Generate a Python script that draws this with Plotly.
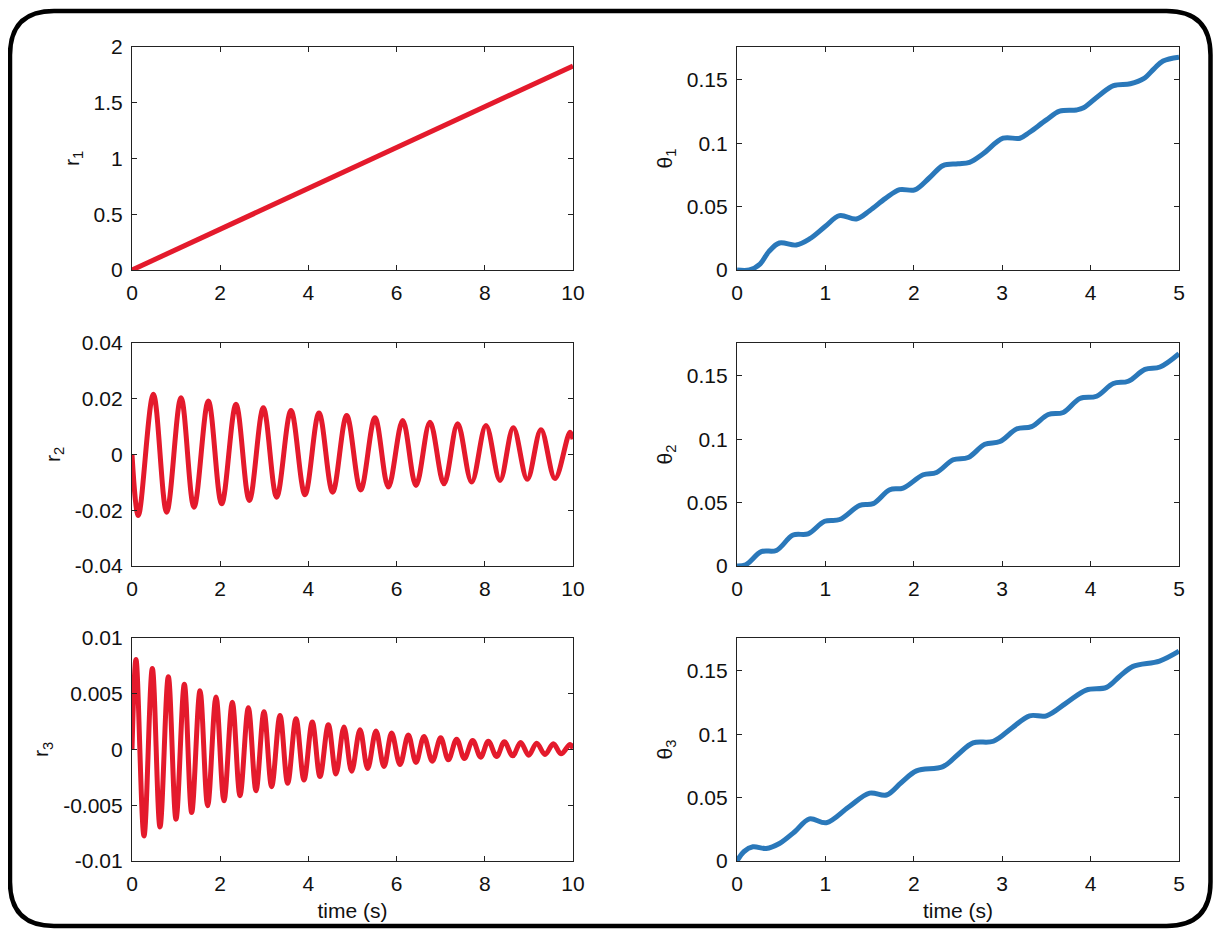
import plotly.graph_objects as go

# ---------------- data ----------------
r1_t = [0.0, 10.0]
r1_v = [0.0, 1.83]

# r2: start, alternating troughs / peaks, end
r2_t = [0.0, 0.144, 0.484, 0.786, 1.111, 1.406, 1.731, 2.033, 2.358, 2.661, 2.978,
        3.280, 3.605, 3.923, 4.240, 4.550, 4.868, 5.185, 5.510, 5.813, 6.138,
        6.440, 6.757, 7.075, 7.385, 7.702, 8.027, 8.345, 8.647, 8.964, 9.274,
        9.592, 9.932, 10.0]
r2_v = [0.0, -0.0219, 0.0216, -0.0207, 0.0204, -0.0189, 0.0192, -0.0177, 0.0180,
        -0.0165, 0.0168, -0.0153, 0.0158, -0.0144, 0.0149, -0.0135, 0.0140,
        -0.0127, 0.0132, -0.0117, 0.0122, -0.0111, 0.0116, -0.0105, 0.0110,
        -0.0099, 0.0104, -0.0093, 0.0096, -0.0089, 0.0089, -0.0086, 0.0080, 0.0055]

# r3: start, peaks/troughs alternating, end
r3_peak_t = [0.091, 0.461, 0.824, 1.187, 1.542, 1.905, 2.275, 2.638, 2.993, 3.356,
             3.719, 4.089, 4.452, 4.807, 5.170, 5.533, 5.888, 6.266, 6.621, 7.000,
             7.362, 7.725, 8.080, 8.443, 8.813, 9.176, 9.554, 9.932]
r3_peak_v = [0.00808, 0.00727, 0.00652, 0.00586, 0.00526, 0.00471, 0.00423, 0.00375,
             0.00339, 0.00306, 0.00276, 0.00246, 0.00222, 0.00201, 0.00177, 0.00165,
             0.00147, 0.00129, 0.00117, 0.00105, 0.00093, 0.00081, 0.00075, 0.00069,
             0.00063, 0.00057, 0.00051, 0.00045]
r3_trough_t = [0.272, 0.635, 0.998, 1.353, 1.716, 2.086, 2.449, 2.812, 3.167, 3.530,
               3.900, 4.263, 4.626, 4.981, 5.344, 5.714, 6.077, 6.440, 6.810, 7.173,
               7.536, 7.906, 8.269, 8.632, 8.995, 9.365, 9.728]
r3_trough_v = [-0.00775, -0.00694, -0.00625, -0.00565, -0.00505, -0.00460, -0.00414,
               -0.00369, -0.00333, -0.00303, -0.00273, -0.00243, -0.00219, -0.00195,
               -0.00171, -0.00153, -0.00135, -0.00117, -0.00105, -0.00093, -0.00081,
               -0.00069, -0.00063, -0.00057, -0.00051, -0.00045, -0.00039]
r3_start = (0.0, 0.0)
r3_end = (10.0, 0.0001)

th1_t = [0.0, 0.14, 0.26, 0.36, 0.48, 0.67, 0.82, 1.0, 1.16, 1.35, 1.5, 1.68, 1.84,
         2.01, 2.18, 2.33, 2.5, 2.63, 2.78, 3.01, 3.2, 3.31, 3.5, 3.65, 3.84, 3.92,
         4.1, 4.26, 4.45, 4.6, 4.72, 4.82, 5.0]
th1_v = [0.0, 0.0, 0.0047, 0.0145, 0.0213, 0.0197, 0.0245, 0.0345, 0.0429, 0.0403,
         0.0468, 0.0565, 0.0634, 0.0632, 0.073, 0.0824, 0.0838, 0.085, 0.0916, 0.104,
         0.104, 0.1087, 0.1185, 0.1253, 0.1263, 0.128, 0.138, 0.1455, 0.147, 0.151,
         0.159, 0.165, 0.168]

th2_t = [0.0, 0.1, 0.275, 0.445, 0.634, 0.804, 0.992, 1.162, 1.389, 1.540, 1.728,
         1.879, 2.106, 2.257, 2.445, 2.615, 2.804, 2.974, 3.162, 3.332, 3.521, 3.691,
         3.879, 4.068, 4.257, 4.426, 4.615, 4.785, 5.0]
th2_v = [0.0, 0.001, 0.0113, 0.0123, 0.0244, 0.0254, 0.0353, 0.0367, 0.0479, 0.0492,
         0.0602, 0.0615, 0.0720, 0.0738, 0.0838, 0.0856, 0.0961, 0.0982, 0.1081, 0.1100,
         0.1196, 0.1212, 0.1322, 0.1340, 0.1440, 0.1458, 0.1552, 0.1571, 0.1676]

th3_t = [0.0, 0.08, 0.18, 0.33, 0.48, 0.65, 0.82, 1.01, 1.26, 1.50, 1.69, 1.86, 2.03,
         2.33, 2.5, 2.67, 2.9, 3.11, 3.31, 3.50, 3.73, 3.95, 4.18, 4.33, 4.48, 4.78, 5.0]
th3_v = [0.0, 0.0075, 0.0112, 0.0099, 0.0138, 0.0229, 0.0333, 0.0302, 0.0424, 0.0536,
         0.0521, 0.062, 0.0711, 0.0745, 0.0841, 0.0932, 0.0945, 0.105, 0.1146, 0.1146,
         0.125, 0.1349, 0.137, 0.1458, 0.1536, 0.1578, 0.1656]

left_ticks = [0, 2, 4, 6, 8, 10]
right_ticks = [0, 1, 2, 3, 4, 5]
r1_ticks = [0, 0.5, 1, 1.5, 2]
r1_ticktext = ["0", "0.5", "1", "1.5", "2"]
r2_ticks = [-0.04, -0.02, 0, 0.02, 0.04]
r2_ticktext = ["-0.04", "-0.02", "0", "0.02", "0.04"]
r3_ticks = [-0.01, -0.005, 0, 0.005, 0.01]
r3_ticktext = ["-0.01", "-0.005", "0", "0.005", "0.01"]
th_ticks = [0, 0.05, 0.1, 0.15]
th_ticktext = ["0", "0.05", "0.1", "0.15"]

# merge r3 extremes in time order
r3_pts = [r3_start] + sorted(list(zip(r3_peak_t, r3_peak_v)) + list(zip(r3_trough_t, r3_trough_v))) + [r3_end]
r3_t = [p[0] for p in r3_pts]
r3_v = [p[1] for p in r3_pts]

# ---------------- layout helpers ----------------
# the page body has an 8px margin; the figure is sized so it ends at the window edge
OFF = 8
W, H = 1221 - OFF, 930 - OFF
RED = "#E41A2C"
BLUE = "#2A78BA"
FONT = "Liberation Sans, Arial, Helvetica, sans-serif"

def px_x(x):
    return (x - OFF) / W

def px_y(y):
    return 1 - (y - OFF) / H

fig = go.Figure()

panels = [
    ("x", "y", r1_t, r1_v, RED, (132, 573), (47, 270), [0, 10], [0, 2], left_ticks, r1_ticks, r1_ticktext, "r<sub>1</sub>", None),
    ("x2", "y2", th1_t, th1_v, BLUE, (737, 1179), (47, 270), [0, 5], [0, 0.176], right_ticks, th_ticks, th_ticktext, "θ<sub>1</sub>", None),
    ("x3", "y3", r2_t, r2_v, RED, (132, 573), (343, 566), [0, 10], [-0.04, 0.04], left_ticks, r2_ticks, r2_ticktext, "r<sub>2</sub>", None),
    ("x4", "y4", th2_t, th2_v, BLUE, (737, 1179), (343, 566), [0, 5], [0, 0.176], right_ticks, th_ticks, th_ticktext, "θ<sub>2</sub>", None),
    ("x5", "y5", r3_t, r3_v, RED, (132, 573), (638, 861), [0, 10], [-0.01, 0.01], left_ticks, r3_ticks, r3_ticktext, "r<sub>3</sub>", "time (s)"),
    ("x6", "y6", th3_t, th3_v, BLUE, (737, 1179), (638, 861), [0, 5], [0, 0.176], right_ticks, th_ticks, th_ticktext, "θ<sub>3</sub>", "time (s)"),
]

axis_common = dict(
    showline=True, linecolor="#222222", linewidth=1.2, mirror="ticks",
    ticks="inside", ticklen=5, tickwidth=1, tickcolor="#222222",
    showgrid=False, zeroline=False, automargin=False,
    tickfont=dict(family=FONT, size=21, color="#111111"),
)

for xa, ya, t, v, col, xpx, ypx, xr, yr, xt, yt, ytt, ytitle, xtitle in panels:
    fig.add_trace(go.Scatter(
        x=t, y=v, mode="lines", xaxis=xa, yaxis=ya,
        line=dict(color=col, width=5, shape="spline", smoothing=1),
        showlegend=False, hoverinfo="skip",
    ))
    xkey = "xaxis" + xa[1:]
    ykey = "yaxis" + ya[1:]
    xd = dict(axis_common)
    xd.update(domain=[px_x(xpx[0]), px_x(xpx[1])], range=xr, tickvals=xt,
              ticktext=[str(k) for k in xt], anchor=ya, ticklabelstandoff=4)
    if xtitle:
        xd["title"] = dict(text=xtitle, font=dict(family=FONT, size=21, color="#111111"), standoff=9)
    yd = dict(axis_common)
    yd.update(domain=[px_y(ypx[1]), px_y(ypx[0])], range=yr, tickvals=yt,
              ticktext=ytt, anchor=xa, ticklabelstandoff=4,
              title=dict(text=ytitle, font=dict(family=FONT, size=21, color="#111111"), standoff=8))
    fig.update_layout(**{xkey: xd, ykey: yd})

# rounded border frame
x0, x1 = px_x(10), px_x(1210.5)
y0, y1 = px_y(11), px_y(926)
rx, ry = 44 / W, 44 / H
path = (f"M {x0 + rx},{y0} L {x1 - rx},{y0} Q {x1},{y0} {x1},{y0 - ry} "
        f"L {x1},{y1 + ry} Q {x1},{y1} {x1 - rx},{y1} "
        f"L {x0 + rx},{y1} Q {x0},{y1} {x0},{y1 + ry} "
        f"L {x0},{y0 - ry} Q {x0},{y0} {x0 + rx},{y0} Z")
fig.add_shape(type="path", path=path, xref="paper", yref="paper",
              line=dict(color="black", width=4.5), fillcolor="rgba(0,0,0,0)")

fig.update_layout(
    width=W, height=H, margin=dict(l=0, r=0, t=0, b=0, autoexpand=False),
    paper_bgcolor="white", plot_bgcolor="white",
    font=dict(family=FONT, color="#111111"),
)

fig.write_html("out.html")
